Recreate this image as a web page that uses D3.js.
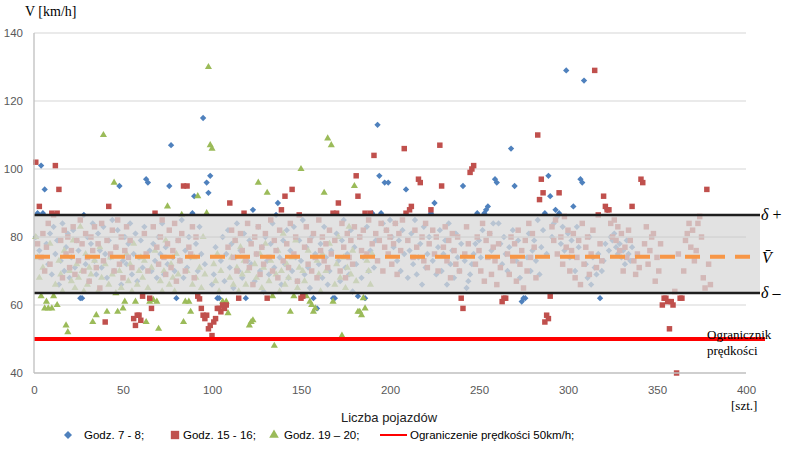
<!DOCTYPE html>
<html><head><meta charset="utf-8">
<script src="https://cdn.jsdelivr.net/npm/d3@7"></script>
<style>body{margin:0;background:#fff}svg{display:block}</style>
</head><body>
<svg id="c" width="787" height="449"></svg>
<script>
const xTicks=[0,50,100,150,200,250,300,350,400];
const yTicks=[40,60,80,100,120,140];
const seriesNames=["Godz. 7 - 8;","Godz. 15 - 16;","Godz. 19 \u2013 20;","Ograniczenie pr\u0119dko\u015bci 50km/h;"];
const deltaPlus=86.5, meanV=74.2, deltaMinus=63.5, speedLimit=50;
// Godz. 7-8 (x = index 1..)
const blueY=[80,87,76,101,87,94,78,72,81,69,83,75,79,66,73,84,70,77,81,68,
74,82,71,79,76,62,62,86.5,72,80,67,78,84,73,69,81,76,71,83,75,
68,79,74,85,70,77,82,95,66,73,80,72,78,84,69,75,81,67,74,79,
71,83,97,96,76,70,78,73,68,80,75,84,69,77,72,95,107,74,70,62,
79,73,85,68,76,71,80,74,87,92,78,70,83,75,115,72,96,93,98,66,
69,77,62,62,73,80,67,75,82,71,78,65,74,84,70,76,68,81,62,73,
79,72,88,67,75,83,70,77,64,80,73,69,78,84,71,86.5,90,74,66,79,
72,82,68,76,70,83,74,67,79,73,85,69,77,71,65,80,62,75,59,72,
78,68,83,74,66,70,76,62,62,81,73,67,79,85,71,75,69,82,64,77,
72,62.6,80,68,74,62,83,70,76,87,71,79,113,98,87,84,96,82,96,85,
80,77,84,73,79,70,82,75,94,68,76,81,72,85,69,74,78,66,83,71,
75,80,87,73,90,69,77,82,70,75,79,66,84,72,76,68,81,74,70,78,
95,73,65,67,69,72,75,78,87,79,74,82,87,88,89,81,76,84,97,96,
84,78,72,80,75,70,77,106,82,95,73,79,68,61,62,62,74,81,70,76,
79,73,85,69,77,82,87,75,98,92,80,84,88,86,87,78,83,76,129,81,
74,79,89,70,83,77,97,96,126,72,68,80,66,74,71,69,75,62,70,73,
78,88,76,80,79,81,77,75,78,74,76,72,79,75,73,77];
// Godz. 15-16
const redY=[102,78,89,74,81,70,77,84,72,87,86.5,101,87,94,79,68,82,75,80,71,
76,83,69,79,73,85,78,70,81,74,67,80,76,83,71,78,65,84,73,55,
79,89,75,82,70,77,85,72,80,68,76,83,74,79,71,56,54,57,57,55.5,
62.6,81,75,70,62,59,83,87,77,72,80,85,74,69,78,82,71,76,84,67,
79,73,81,95,70,95,77,75,83,68,80,62.6,61.8,59,57,56,57,53,54,51,
55,56,59,59,58,60,59,60,77,90,82,74,79,70,62,81,76,87,73,84,
71,78,66,80,75,83,69,77,72,81,62,74,85,70,79,76,68,82,88,73,
92,78,71,84,94,75,80,67,86.5,62,62.6,77,83,72,79,70,81,74,68,85,
76,80,73,78,71,82,75,87,79,87,90,70,84,77,68,81,74,79,72,83,
98,92,80,76,82,87,75,85,87,78,104,81,73,79,84,70,77,82,75,80,
72,78,84,69,81,76,85,106,87,79,88,89,74,82,77,97,96,80,73,84,
71,78,88,82,75,80,70,107,95,77,83,73,79,68,81,76,72,80,70,62,
59,75,83,78,99,100,101,72,80,76,70,84,67,79,74,81,69,77,73,66,
78,71,61,62,62,75,69,80,73,78,67,82,72,76,65,79,70,84,74,81,
77,68,110,91,97,93,55,57,56,62.6,83,79,85,75,93,80,72,86,77,82,
70,76,81,68,74,79,66,84,72,77,80,69,75,82,129,71,86.5,78,73,92,
89,88,88,84,80,85,79,83,76,81,70,77,74,82,79,89,73,69,75,71,
97,96,78,83,72,76,80,81,67,74,70,78,60,62,62,61,53,61,60,64,
40,75,62,62,70,79,81,84,77,82,73,76,84,86,80,68,65,94,72,66];
// Godz. 19-20
const greenY=[80,74,68,62.6,71,59,61,59,78,59,62.6,66,60,73,69,64,76,54,52,70,
67,79,65,72,68,83,70,64,75,66,71,69,55,73,57,64,77,68,110,72,
58,66,74,69,96,63.5,58,70,65,59,61,75,67,72,64,78,61,66,70,74,
68,73,55,65,61,71,61.5,76,61,53,67,64,70,79,89,66,72,68,64,75,
69,73,86.5,55,61,70,61,58,66,74,68,92,71,65,80,69,87,130,107,106,
72,67,75,64,70,61,60,61,57.6,68,74,66,79,71,64,77,69,73,66,70,
54,55,55.5,72,68,96,75,65,71,78,93,67,73,62.6,48,69,76,64,70,81,
66,72,68,58,74,62.6,79,65,71,100,70,67,62.6,76,61,60,58,59,73,69,
64,75,93,70,109,78,107,61,66,72,80,68,51,74,65,71,83,69,76,95,
67,58,58,57,62,59,73,70,66,75];

const svg=d3.select("#c");
const x=d3.scaleLinear().domain([0,400]).range([34,746]);
const y=d3.scaleLinear().domain([40,140]).range([373,33]);
const C={blue:"#4f81bd",red:"#c0504d",green:"#9bbb59",orange:"#f79646"};
const ext=14; // band overhang beyond axis end

// gridlines
const g=svg.append("g");
g.selectAll("line.grid").data(yTicks.filter(d=>d>40)).enter().append("line")
 .attr("x1",x(0)).attr("x2",x(400)).attr("y1",d=>y(d)).attr("y2",d=>y(d))
 .attr("stroke","#e3e3e3").attr("stroke-width",1.3);

// points
function pts(arr,sym,size,color,rot){
  svg.append("g").selectAll("path").data(arr).enter().append("path")
   .attr("d",d3.symbol().type(sym).size(size))
   .attr("transform",(d,i)=>`translate(${x(i+1)},${y(d)}) rotate(${rot||0})`)
   .attr("fill",color);
}
pts(blueY,d3.symbolSquare,20,C.blue,45);
pts(greenY,d3.symbolTriangle,22,C.green);
pts(redY,d3.symbolSquare,30,C.red);

// band overlay
svg.append("rect").attr("x",x(0)).attr("y",y(deltaPlus))
 .attr("width",x(400)+ext-x(0)).attr("height",y(deltaMinus)-y(deltaPlus))
 .attr("fill","#d9d9d9").attr("fill-opacity",0.76);
svg.append("line").attr("x1",x(0)+2).attr("x2",x(400)).attr("y1",y(80)).attr("y2",y(80))
 .attr("stroke","#d2d2d2").attr("stroke-width",1);
[deltaPlus,deltaMinus].forEach(v=>{
 svg.append("line").attr("x1",x(0)).attr("x2",x(400)+ext).attr("y1",y(v)).attr("y2",y(v))
  .attr("stroke","#1e1e1e").attr("stroke-width",2.5);
});
// mean dashed
svg.append("line").attr("x1",x(0)+1).attr("x2",x(400)+6).attr("y1",y(meanV)).attr("y2",y(meanV))
 .attr("stroke",C.orange).attr("stroke-width",4).attr("stroke-dasharray","15,10");
// speed limit
svg.append("line").attr("x1",x(0)).attr("x2",x(400)+19).attr("y1",y(speedLimit)).attr("y2",y(speedLimit))
 .attr("stroke","#ff0000").attr("stroke-width",4);

// axes
svg.append("line").attr("x1",x(0)).attr("x2",x(0)).attr("y1",y(140)).attr("y2",y(40)).attr("stroke","#bfbfbf").attr("stroke-width",1.3);
svg.append("line").attr("x1",x(0)).attr("x2",x(400)).attr("y1",y(40)).attr("y2",y(40)).attr("stroke","#bfbfbf").attr("stroke-width",1.3);
const yAx=d3.axisLeft(y).tickValues(yTicks).tickSize(0).tickPadding(11);
const yg=svg.append("g").attr("transform",`translate(${x(0)},0)`).call(yAx);
yg.select(".domain").remove();
yg.selectAll("text").attr("font-family","Liberation Sans, Arial, sans-serif").attr("font-size",11.5).attr("fill","#595959");
const xAx=d3.axisBottom(x).tickValues(xTicks).tickSize(0).tickPadding(13);
const xg=svg.append("g").attr("transform",`translate(0,${y(40)})`).call(xAx);
xg.select(".domain").remove();
xg.selectAll("text").attr("font-family","Liberation Sans, Arial, sans-serif").attr("font-size",11.5).attr("fill","#595959");

// titles
const serif="Liberation Serif, Times New Roman, serif";
svg.append("text").attr("x",25).attr("y",16).attr("font-family",serif).attr("font-size",14).text("V [km/h]");
svg.append("text").attr("x",731).attr("y",410).attr("font-family",serif).attr("font-size",13).text("[szt.]");
svg.append("text").attr("x",389).attr("y",422).attr("text-anchor","middle").attr("font-family","Liberation Sans, Arial, sans-serif").attr("font-size",13).attr("fill","#222").text("Liczba pojazdów");
svg.append("text").attr("x",707).attr("y",339).attr("font-family",serif).attr("font-size",13).text("Ogranicznik");
svg.append("text").attr("x",707).attr("y",355).attr("font-family",serif).attr("font-size",13).text("prędkości");
function lab(v,main,suf){
 const t=svg.append("text").attr("x",x(400)+15).attr("y",y(v)+5).attr("font-family",serif).attr("font-size",16);
 t.append("tspan").attr("font-style","italic").text(main);
 if(suf) t.append("tspan").attr("dx",4).text(suf);
}
lab(deltaPlus,"δ","+");
lab(deltaMinus,"δ","\u2013");
svg.append("text").attr("x",x(400)+16).attr("y",y(meanV)+6).attr("font-family",serif).attr("font-size",16).attr("font-style","italic").text("V\u0304");

// legend
const lg=svg.append("g").attr("font-family","Liberation Sans, Arial, sans-serif").attr("font-size",11.5);
const ly=435;
lg.append("path").attr("d",d3.symbol().type(d3.symbolSquare).size(32)).attr("transform",`translate(68,${ly}) rotate(45)`).attr("fill",C.blue);
lg.append("text").attr("x",84).attr("y",ly+4).text(seriesNames[0]);
lg.append("path").attr("d",d3.symbol().type(d3.symbolSquare).size(70)).attr("transform",`translate(175,${ly})`).attr("fill",C.red);
lg.append("text").attr("x",183).attr("y",ly+4).text(seriesNames[1]);
lg.append("path").attr("d",d3.symbol().type(d3.symbolTriangle).size(40)).attr("transform",`translate(274,${ly})`).attr("fill",C.green);
lg.append("text").attr("x",284).attr("y",ly+4).text(seriesNames[2]);
lg.append("line").attr("x1",380).attr("x2",407).attr("y1",ly).attr("y2",ly).attr("stroke","#ff0000").attr("stroke-width",2);
lg.append("text").attr("x",410).attr("y",ly+4).text(seriesNames[3]);
</script>
</body></html>
